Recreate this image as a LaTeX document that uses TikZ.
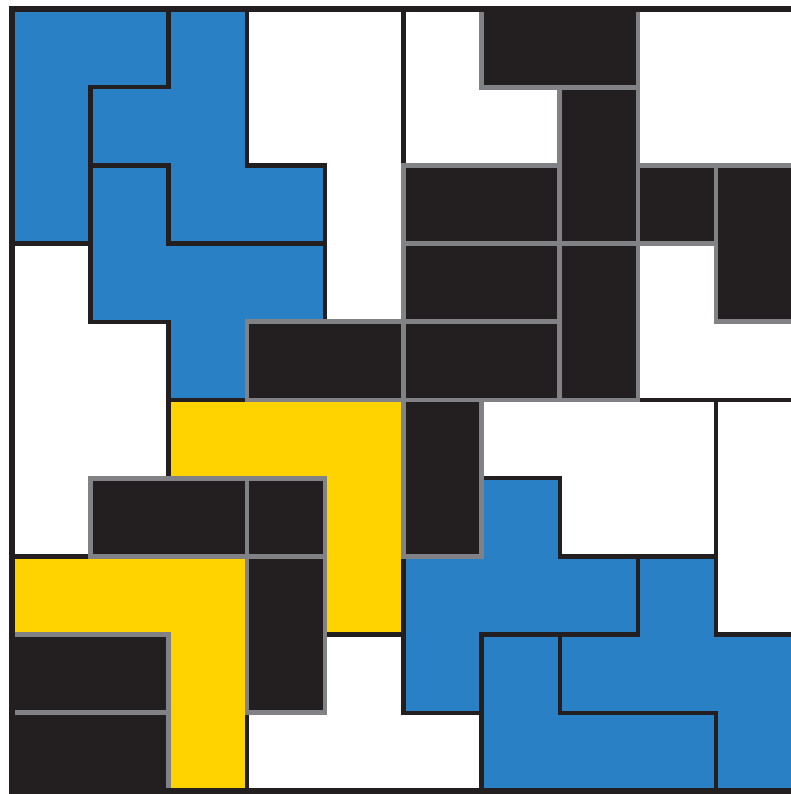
\documentclass[tikz,border=0pt]{standalone}
\usepackage{xcolor}
\usepackage{tikz}

\definecolor{tileblue}{HTML}{2980C4}
\definecolor{tileyellow}{HTML}{FFD300}
\definecolor{inkblack}{HTML}{231F20}
\definecolor{edgegrey}{HTML}{808285}

\begin{document}
\begin{tikzpicture}[
    x=1cm, y=-1cm,
    piece/.style={draw=inkblack,line width=1.6pt,line join=miter},
    bluepiece/.style={piece,fill=tileblue},
    yellowpiece/.style={piece,fill=tileyellow},
    blank/.style={piece,fill=white},
    domino/.style={fill=inkblack,draw=edgegrey,line width=1.7pt,line join=miter}
]

\useasboundingbox (-0.157,-0.115) rectangle (9.95,10.038);

% empty regions
\draw[blank] (3,0) -- (5,0) -- (5,4) -- (4,4) -- (4,2) -- (3,2) -- cycle;
\draw[blank] (5,0) -- (6,0) -- (6,1) -- (7,1) -- (7,2) -- (5,2) -- cycle;
\draw[blank] (8,0) rectangle (10,2);
\draw[blank] (8,3) -- (9,3) -- (9,4) -- (10,4) -- (10,5) -- (8,5) -- cycle;
\draw[blank] (0,3) -- (1,3) -- (1,4) -- (2,4) -- (2,6) -- (1,6) -- (1,7) -- (0,7) -- cycle;
\draw[blank] (6,5) -- (9,5) -- (9,7) -- (7,7) -- (7,6) -- (6,6) -- cycle;
\draw[blank] (9,5) rectangle (10,8);
\draw[blank] (4,8) -- (5,8) -- (5,9) -- (6,9) -- (6,10) -- (3,10) -- (3,9) -- (4,9) -- cycle;

% blue pieces, top left
\draw[bluepiece] (0,0) -- (2,0) -- (2,1) -- (1,1) -- (1,3) -- (0,3) -- cycle;
\draw[bluepiece] (2,0) -- (3,0) -- (3,2) -- (4,2) -- (4,3) -- (2,3) -- (2,2) -- (1,2) -- (1,1) -- (2,1) -- cycle;
\draw[bluepiece] (1,2) -- (2,2) -- (2,3) -- (4,3) -- (4,4) -- (3,4) -- (3,5) -- (2,5) -- (2,4) -- (1,4) -- cycle;

% blue pieces, bottom right
\draw[bluepiece] (6,6) -- (7,6) -- (7,7) -- (8,7) -- (8,8) -- (6,8) -- (6,9) -- (5,9) -- (5,7) -- (6,7) -- cycle;
\draw[bluepiece] (6,8) -- (7,8) -- (7,9) -- (9,9) -- (9,10) -- (6,10) -- cycle;
\draw[bluepiece] (8,7) -- (9,7) -- (9,8) -- (10,8) -- (10,10) -- (9,10) -- (9,9) -- (7,9) -- (7,8) -- (8,8) -- cycle;

% yellow pieces
\draw[yellowpiece] (2,5) -- (5,5) -- (5,8) -- (4,8) -- (4,6) -- (2,6) -- cycle;
\draw[yellowpiece] (0,7) -- (3,7) -- (3,10) -- (2,10) -- (2,8) -- (0,8) -- cycle;

% black blocks
\foreach \xa/\ya/\xb/\yb in {6/0/8/1, 7/1/8/3, 5/2/7/3, 8/2/9/3, 9/2/10/4,
    5/3/7/4, 7/3/8/5, 3/4/5/5, 5/4/7/5, 5/5/6/7, 1/6/3/7, 3/6/4/7,
    3/7/4/9, 0/8/2/9, 0/9/2/10}
  \draw[domino] (\xa,\ya) rectangle (\xb,\yb);

% frame (right side falls outside the page)
\draw[inkblack,line width=2.2pt,line join=miter] (10.2,0) -- (0,0) -- (0,10) -- (10.2,10);

\end{tikzpicture}
\end{document}
